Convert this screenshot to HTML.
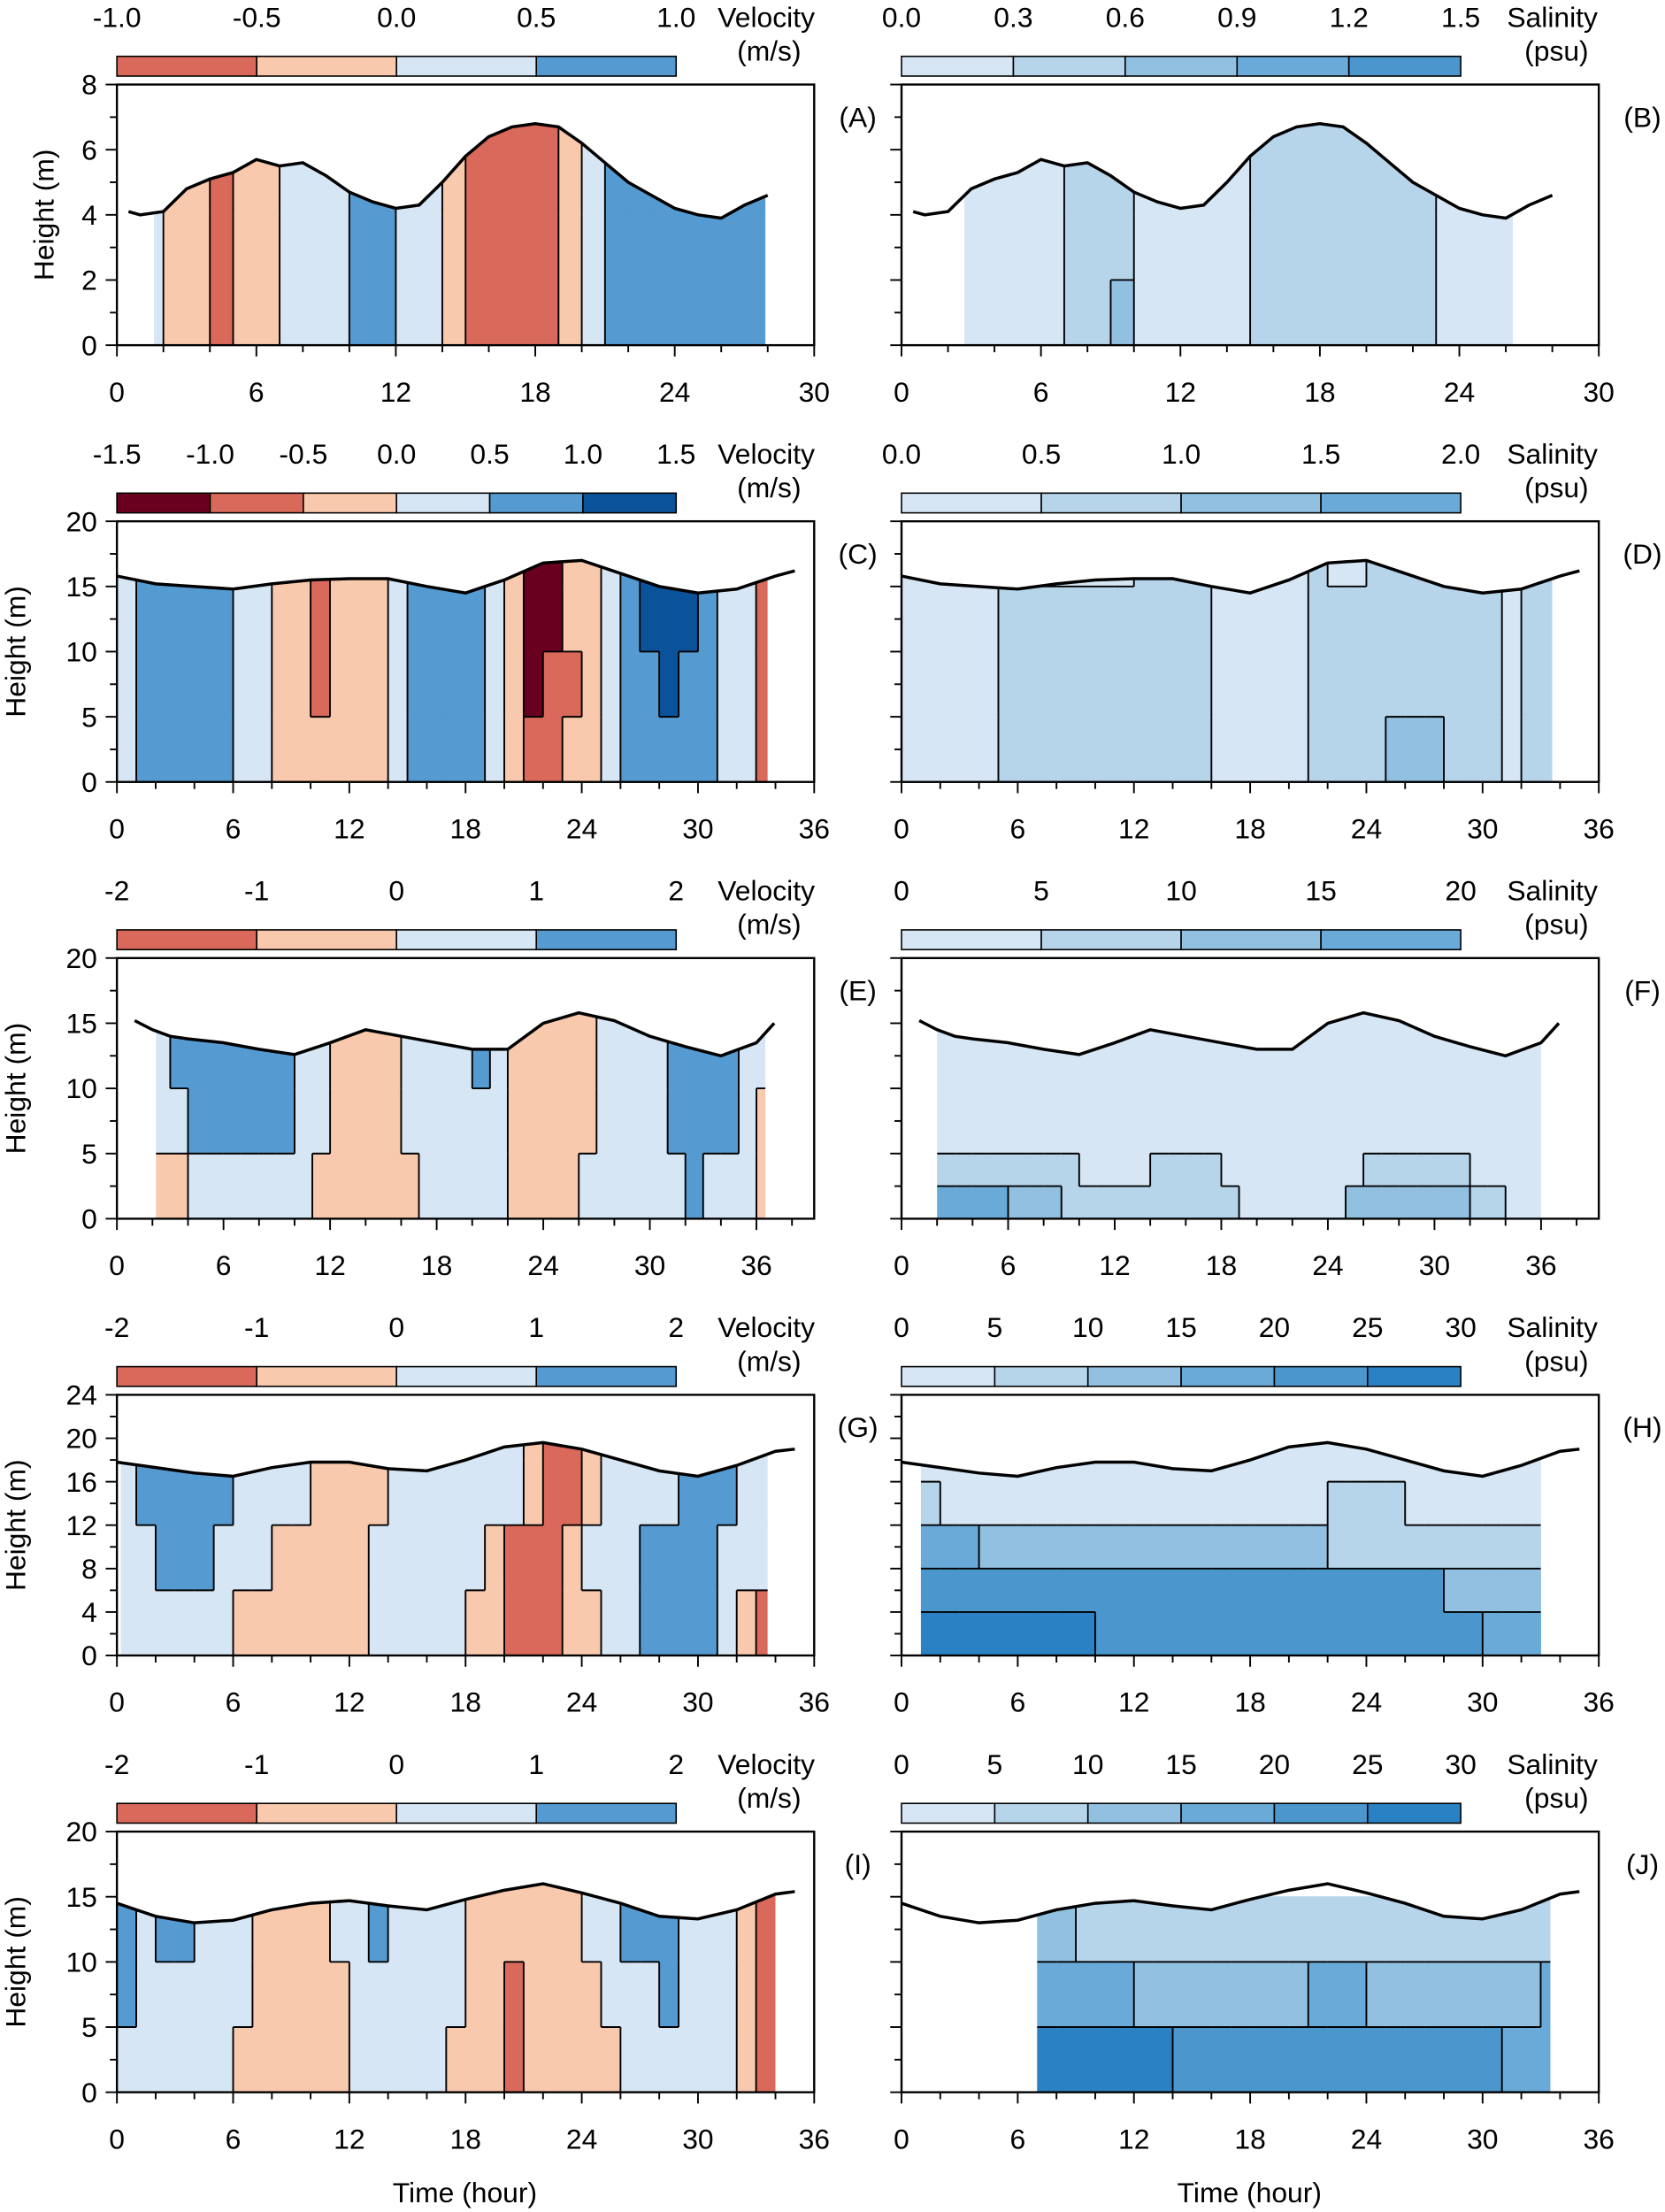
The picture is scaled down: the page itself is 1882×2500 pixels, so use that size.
<!DOCTYPE html>
<html><head><meta charset="utf-8"><style>
html,body{margin:0;padding:0;background:#fff}
svg{display:block;font-family:"Liberation Sans",sans-serif}
</style></head><body>
<svg id="fig" width="1882" height="2500" viewBox="0 0 1182 1570" preserveAspectRatio="none" xmlns="http://www.w3.org/2000/svg"></svg>
<script>
// ---- colour palettes ----
const velColors=['#6a0020','#d9695a','#f9c9ad','#d6e6f4','#559bd2','#0a539b'];
const salColors=['#d6e6f4','#b6d4ea','#92c0e0','#6aaad8','#4a96cd','#2a82c4'];

// ---- surface (water level) data ----
const surfA_t=[0.5,1,2,3,4,5,6,7,8,9,10,11,12,13,14,15,16,17,18,19,20,21,22,23,24,25,26,27,28];
const surfA_v=[4.1,4.0,4.1,4.8,5.1,5.3,5.7,5.5,5.6,5.2,4.7,4.4,4.2,4.3,5.0,5.8,6.4,6.7,6.8,6.7,6.2,5.6,5.0,4.6,4.2,4.0,3.9,4.3,4.6];
const surfC_t=[0,2,4,6,8,10,12,14,16,18,20,22,24,26,28,30,32,34,35];
const surfC_v=[15.8,15.2,15.0,14.8,15.2,15.5,15.6,15.6,15.0,14.5,15.5,16.8,17.0,16.0,15.0,14.5,14.8,15.8,16.2];
const surfE_t=[1,2,3,4,6,8,10,12,14,16,18,20,22,24,26,28,30,32,34,36,37];
const surfE_v=[15.2,14.5,14.0,13.8,13.5,13.0,12.6,13.5,14.5,14.0,13.5,13.0,13.0,15.0,15.8,15.2,14.0,13.2,12.5,13.5,15.0];
const surfG_t=[0,2,4,6,8,10,12,14,16,18,20,22,24,26,28,30,32,34,35];
const surfG_v=[17.8,17.3,16.8,16.5,17.3,17.8,17.8,17.2,17.0,18.0,19.2,19.6,19.0,18.0,17.0,16.5,17.5,18.8,19.0];
const surfI_t=[0,2,4,6,8,10,12,14,16,18,20,22,24,26,28,30,32,34,35];
const surfI_v=[14.5,13.5,13.0,13.2,14.0,14.5,14.7,14.3,14.0,14.8,15.5,16.0,15.3,14.5,13.5,13.3,14.0,15.2,15.4];

// ---- class grids (rows: top band -> bottom band, one char per hour) ----
const gridA=["x3221223334433211112344444442xx","x3221223334433211112344444442xx"];
const gridB=["xx00000111000001111111100000xxx","xx00000111000001111111100000xxx","xx00000111000001111111100000xxx","xx00000112000001111111100000xxx"];
const gridC=["3444443322122234444320022345554331..","3444443322122234444320022345554331..","3444443322122234444320112344544331..","3444443322222234444321122344444331.."];
const gridD=["000001100000111100000100111111101 1..".replace(' ',''),"000001111111111100000111111111101 1..".replace(' ',''),"000001111111111100000111111111101 1..".replace(' ',''),"00000111111111110000011112221110 11..".replace(' ','')];
const gridE=["..34444444332222333343222223333444433","..34444444332222333343222223333444433","..33444444332222333333222223333444432","..22333333322222233333222233333343332"];
const gridF=["..00000000000000000000000000000000000","..00000000000000000000000000000000000","..00000000000000000000000000000000000","..00000000000000000000000000000000000","..00000000000000000000000000000000000","..00000000000000000000000000000000000","..11111111000011110000000011111100000","..33332221111111111000000222222211000"];
const gridG=["344444333322223333333211233334443322","344444333322223333333211233334443322","334443332222233333321112333444433322","333333222222233333221112233444432121"];
const gridH=[".00000000000000000000000000000000...",".00000000000000000000000000000000...",".10000000000000000000011110000000...",".33322222222222222222211111111111...",".44444444444444444444444444422222...",".55555555544444444444444444444333..."];
const gridI=["4344333222233433332222223344433321..","4344333222233433332222223344433321..","4333333222223333332212222333433321..","3333332222223333322212222233333321.."];
const gridJ=["....................................",".......22111111111111111111111111111",".......33333222222222333222222222333",".......55555554444444444444444433333"];

const svg=document.getElementById('fig');
const NS='http://www.w3.org/2000/svg';
function mk(tag,attrs,parent){const e=document.createElementNS(NS,tag);for(const k in attrs)e.setAttribute(k,attrs[k]);(parent||svg).appendChild(e);return e;}
function interp(ts,vs,t){if(t<=ts[0])return vs[0];for(let i=1;i<ts.length;i++){if(t<=ts[i]){const f=(t-ts[i-1])/(ts[i]-ts[i-1]);return vs[i-1]+f*(vs[i]-vs[i-1]);}}return vs[vs.length-1];}

const panels=[
 {id:'A',side:0,row:0,xmax:30,xlab:30,ymax:8,ystep:2,yminor:1,xminor:2,st:surfA_t,sv:surfA_v,grid:gridA,t0:1.6,t1:27.9,kind:'vel',cb:['-1.0','-0.5','0.0','0.5','1.0'],cbc:[1,2,3,4]},
 {id:'B',side:1,row:0,xmax:30,xlab:30,ymax:8,ystep:2,yminor:1,xminor:2,st:surfA_t,sv:surfA_v,grid:gridB,t0:2.7,t1:26.3,kind:'sal',cb:['0.0','0.3','0.6','0.9','1.2','1.5'],cbc:[0,1,2,3,4]},
 {id:'C',side:0,row:1,xmax:36,xlab:36,ymax:20,ystep:5,yminor:2.5,xminor:2,st:surfC_t,sv:surfC_v,grid:gridC,t0:0,t1:33.6,kind:'vel',cb:['-1.5','-1.0','-0.5','0.0','0.5','1.0','1.5'],cbc:[0,1,2,3,4,5]},
 {id:'D',side:1,row:1,xmax:36,xlab:36,ymax:20,ystep:5,yminor:2.5,xminor:2,st:surfC_t,sv:surfC_v,grid:gridD,t0:0,t1:33.6,kind:'sal',cb:['0.0','0.5','1.0','1.5','2.0'],cbc:[0,1,2,3]},
 {id:'E',side:0,row:2,xmax:39.25,xlab:36,ymax:20,ystep:5,yminor:2.5,xminor:2,st:surfE_t,sv:surfE_v,grid:gridE,t0:2.2,t1:36.5,kind:'vel',cb:['-2','-1','0','1','2'],cbc:[1,2,3,4]},
 {id:'F',side:1,row:2,xmax:39.25,xlab:36,ymax:20,ystep:5,yminor:2.5,xminor:2,st:surfE_t,sv:surfE_v,grid:gridF,t0:2,t1:36,kind:'sal',cb:['0','5','10','15','20'],cbc:[0,1,2,3]},
 {id:'G',side:0,row:3,xmax:36,xlab:36,ymax:24,ystep:4,yminor:2,xminor:2,st:surfG_t,sv:surfG_v,grid:gridG,t0:0.2,t1:33.6,kind:'vel',cb:['-2','-1','0','1','2'],cbc:[1,2,3,4]},
 {id:'H',side:1,row:3,xmax:36,xlab:36,ymax:24,ystep:4,yminor:2,xminor:2,st:surfG_t,sv:surfG_v,grid:gridH,t0:1,t1:34,kind:'sal',cb:['0','5','10','15','20','25','30'],cbc:[0,1,2,3,4,5]},
 {id:'I',side:0,row:4,xmax:36,xlab:36,ymax:20,ystep:5,yminor:2.5,xminor:2,st:surfI_t,sv:surfI_v,grid:gridI,t0:0,t1:34,kind:'vel',cb:['-2','-1','0','1','2'],cbc:[1,2,3,4]},
 {id:'J',side:1,row:4,xmax:36,xlab:36,ymax:20,ystep:5,yminor:2.5,xminor:2,st:surfI_t,sv:surfI_v,grid:gridJ,t0:7,t1:33.5,kind:'sal',cb:['0','5','10','15','20','25','30'],cbc:[0,1,2,3,4,5]},
];

panels.forEach(p=>{
  const L=p.side?640:83, R=L+495, T=60+p.row*310, B=T+185;
  const g=mk('g',{});  
  const X=t=>L+(t/p.xmax)*(R-L), Y=v=>B-(v/p.ymax)*(B-T);
  const cid='clip'+p.id; const cp=mk('clipPath',{id:cid},g);
  let pts=[[X(p.t0),B]]; pts.push([X(p.t0),Y(interp(p.st,p.sv,p.t0))]);
  p.st.forEach((t,i)=>{if(t>p.t0&&t<p.t1)pts.push([X(t),Y(p.sv[i])]);});
  pts.push([X(p.t1),Y(interp(p.st,p.sv,p.t1))]); pts.push([X(p.t1),B]);
  mk('polygon',{points:pts.map(q=>q.join(',')).join(' ')},cp);
  const cells=mk('g',{'clip-path':'url(#'+cid+')'},g);
   
  const colors=p.kind==='vel'?velColors:salColors;
  const nb=p.grid.length, bh=p.ymax/nb;
  p.grid.forEach((row,ri)=>{
    const vTop=p.ymax-ri*bh, vBot=vTop-bh;
    for(let c=0;c<row.length;c++){
      const ch=row[c]; if(!/[0-9]/.test(ch))continue;
      const r=mk('rect',{x:X(c)-0.3,y:Y(vTop)-0.3,width:X(c+1)-X(c)+0.6,height:Y(vBot)-Y(vTop)+0.6,fill:colors[+ch]},cells);
       
    }
  });
  const lines=mk('g',{'clip-path':'url(#'+cid+')',stroke:'#000','stroke-width':1.2,fill:'none'},g);
  p.grid.forEach((row,ri)=>{const vTop=p.ymax-ri*bh,vBot=vTop-bh;
    for(let c=1;c<row.length;c++){const a=row[c-1],b=row[c];if(/[0-9]/.test(a)&&/[0-9]/.test(b)&&a!==b)mk('line',{x1:X(c),x2:X(c),y1:Y(vTop),y2:Y(vBot)},lines);}
    if(ri>0){const up=p.grid[ri-1];for(let c=0;c<row.length;c++){const a=up[c],b=row[c];if(/[0-9]/.test(a)&&/[0-9]/.test(b)&&a!==b)mk('line',{x1:X(c),x2:X(c+1),y1:Y(vTop),y2:Y(vTop)},lines);}}
  });
  const sl=mk('polyline',{points:p.st.map((t,i)=>X(t)+','+Y(p.sv[i])).join(' '),fill:'none',stroke:'#000','stroke-width':2.2},g);
   
  const fr=mk('rect',{x:L,y:T,width:R-L,height:B-T,fill:'none',stroke:'#000','stroke-width':1.5},g);
   
  for(let t=0;t<=p.xmax;t+=p.xminor){const maj=t%6===0&&t<=p.xlab;mk('line',{x1:X(t),x2:X(t),y1:B,y2:B+(maj?8:5),stroke:'#000','stroke-width':1.2},g);
    if(maj){const tx=mk('text',{x:X(t),y:B+40,'font-size':20,'text-anchor':'middle'},g);tx.textContent=t;}}
  for(let v=0;v<=p.ymax+1e-6;v+=p.yminor){const maj=Math.abs(v/p.ystep-Math.round(v/p.ystep))<1e-6;mk('line',{x1:L,x2:L-(maj?8:5),y1:Y(v),y2:Y(v),stroke:'#000','stroke-width':1.2},g);
    if(maj&&!p.side){const tx=mk('text',{x:L-14,y:Y(v)+7,'font-size':20,'text-anchor':'end'},g);tx.textContent=v;}}
  if(!p.side){const yt=mk('text',{x:0,y:0,'font-size':20,'text-anchor':'middle',transform:'translate('+(p.row?18:38)+','+((T+B)/2)+') rotate(-90)'},g);yt.textContent='Height (m)';}
  const lt=mk('text',{x:R+31,y:T+30,'font-size':20,'text-anchor':'middle'},g);lt.textContent='('+p.id+')';
  const cb=mk('g',{},g);
  const cL=L,cR=L+397,cT=T-20,cB=T-6,n=p.cbc.length,w=(cR-cL)/n;
  p.cbc.forEach((ci,i)=>{mk('rect',{x:cL+i*w,y:cT,width:w,height:cB-cT,fill:colors[ci],stroke:'#000','stroke-width':1},cb);});
  p.cb.forEach((s,i)=>{const tx=mk('text',{x:cL+i*w,y:T-41,'font-size':20,'text-anchor':'middle'},cb);tx.textContent=s;});
  const t1=mk('text',{x:p.side?1102:544,y:T-41,'font-size':20,'text-anchor':'middle'},cb);t1.textContent=p.kind==='vel'?'Velocity':'Salinity';
  const t2=mk('text',{x:p.side?1105:546,y:T-17,'font-size':20,'text-anchor':'middle'},cb);t2.textContent=p.kind==='vel'?'(m/s)':'(psu)';
});
[330,887].forEach((x,i)=>{const t=mk('text',{x:x,y:1563,'font-size':20,'text-anchor':'middle'});t.textContent='Time (hour)';});
</script>
</body></html>
